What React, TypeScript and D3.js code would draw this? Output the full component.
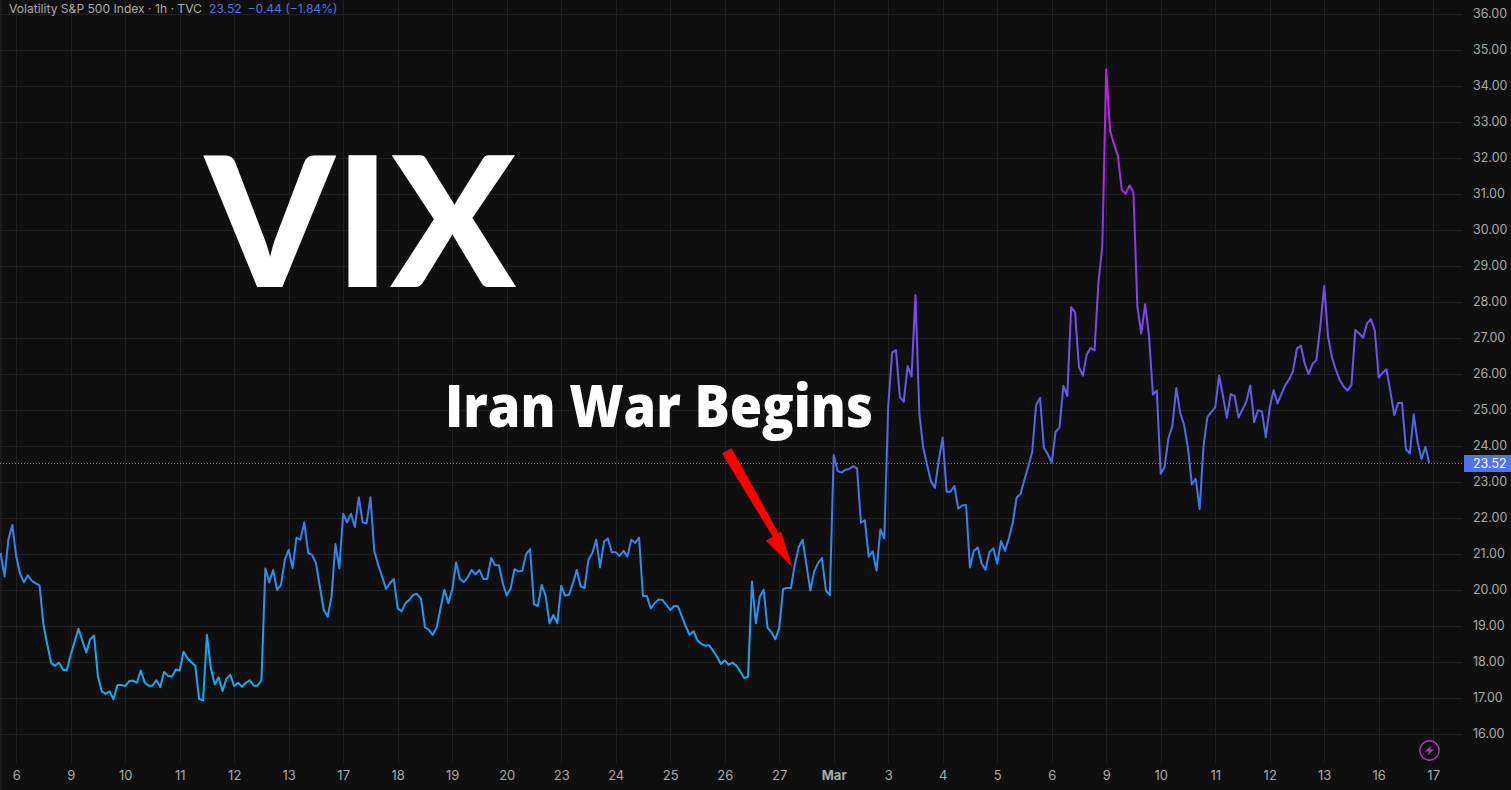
import React, { useEffect, useRef } from "react";
import * as d3 from "d3";

// hourly closes, 14 bars per session
const feb5Tail = [21.03, 20.38, 21.4, 21.81];
const feb6 = [20.94, 20.45, 20.22, 20.41, 20.26, 20.19, 20.13, 19.04, 18.48, 17.97, 17.9, 17.99, 17.79, 17.78];
const feb9 = [18.2, 18.57, 18.93, 18.6, 18.27, 18.64, 18.74, 17.6, 17.19, 17.12, 17.19, 16.97, 17.37, 17.37];
const feb10 = [17.34, 17.47, 17.49, 17.43, 17.77, 17.44, 17.35, 17.35, 17.5, 17.31, 17.73, 17.62, 17.6, 17.8];
const feb11 = [17.77, 18.29, 18.11, 18.0, 17.9, 16.98, 16.94, 18.76, 17.83, 17.39, 17.58, 17.2, 17.54, 17.65];
const feb12 = [17.34, 17.43, 17.32, 17.43, 17.5, 17.35, 17.35, 17.5, 20.6, 20.21, 20.56, 20.01, 20.14, 20.84];
const feb13 = [21.12, 20.61, 21.46, 21.4, 21.88, 21.03, 20.98, 20.75, 20.1, 19.45, 19.27, 19.82, 21.28, 20.61];
const feb17 = [22.12, 21.88, 22.12, 21.75, 22.58, 21.88, 21.85, 22.58, 21.07, 20.7, 20.38, 20.03, 20.19, 20.31];
const feb18 = [19.5, 19.41, 19.64, 19.73, 19.87, 19.89, 19.76, 18.97, 18.9, 18.76, 18.96, 19.5, 20.01, 19.64];
const feb19 = [20.01, 20.77, 20.31, 20.22, 20.36, 20.56, 20.44, 20.56, 20.31, 20.31, 20.89, 20.7, 20.69, 20.19];
const feb20 = [19.85, 20.04, 20.58, 20.52, 20.54, 21.0, 21.14, 19.61, 19.56, 20.15, 19.84, 19.08, 19.31, 19.08];
const feb23 = [20.12, 19.85, 19.87, 20.19, 20.56, 20.1, 20.06, 20.84, 21.03, 21.4, 20.63, 21.35, 21.43, 21.05];
const feb24 = [21.05, 20.95, 21.09, 20.93, 21.4, 21.31, 21.46, 19.84, 19.84, 19.49, 19.64, 19.74, 19.73, 19.59];
const feb25 = [19.45, 19.56, 19.55, 19.27, 18.99, 18.76, 18.86, 18.6, 18.51, 18.46, 18.47, 18.32, 18.16, 17.95];
const feb26 = [18.05, 17.93, 17.99, 17.91, 17.74, 17.56, 17.6, 20.24, 19.08, 19.81, 20.01, 18.96, 18.83, 18.64];
const feb27 = [18.94, 20.03, 20.06, 20.06, 20.7, 21.19, 21.4, 20.7, 19.99, 20.52, 20.75, 20.89, 19.99, 19.86];
const mar2 = [23.75, 23.31, 23.26, 23.34, 23.36, 23.44, 23.38, 21.87, 21.94, 20.93, 21.08, 20.54, 21.69, 21.44];
const mar3 = [25.09, 26.59, 26.66, 25.35, 25.23, 26.22, 25.93, 28.18, 24.9, 23.95, 23.47, 23.01, 22.84, 23.61];
const mar4 = [24.23, 22.73, 22.73, 22.89, 22.26, 22.35, 22.36, 20.63, 21.09, 21.18, 20.74, 20.57, 21.05, 21.16];
const mar5 = [20.74, 21.36, 21.09, 21.44, 21.87, 22.57, 22.67, 23.06, 23.43, 23.84, 25.14, 25.34, 23.95, 23.77];
const mar6 = [23.54, 24.39, 24.51, 25.67, 25.39, 27.85, 27.71, 26.19, 25.95, 26.54, 26.72, 26.65, 28.53, 29.55];
const mar9 = [34.45, 32.74, 32.37, 32.05, 31.1, 31.0, 31.23, 31.03, 27.88, 27.12, 27.93, 27.05, 25.43, 25.54];
const mar10 = [23.23, 23.42, 24.22, 24.55, 25.61, 24.92, 24.59, 23.94, 22.93, 23.09, 22.25, 23.99, 24.81, 24.94];
const mar11 = [25.07, 25.95, 25.38, 24.78, 25.44, 25.38, 24.79, 25.01, 25.23, 25.68, 24.66, 24.99, 24.96, 24.24];
const mar12 = [25.06, 25.55, 25.18, 25.44, 25.69, 25.85, 26.08, 26.71, 26.78, 26.29, 25.99, 26.27, 26.39, 27.31];
const mar13 = [28.44, 27.03, 26.46, 26.11, 25.83, 25.65, 25.54, 25.69, 27.22, 27.12, 27.0, 27.4, 27.52, 27.2];
const mar16 = [25.9, 26.03, 26.13, 25.51, 24.86, 25.19, 25.2, 23.91, 23.79, 24.88, 24.1, 23.64, 23.98, 23.52];

const sessions = [
  feb5Tail, feb6, feb9, feb10, feb11, feb12, feb13, feb17, feb18, feb19, feb20, feb23, feb24, feb25,
  feb26, feb27, mar2, mar3, mar4, mar5, mar6, mar9, mar10, mar11, mar12, mar13, mar16,
];

const dayLabels = ["6", "9", "10", "11", "12", "13", "17", "18", "19", "20", "23", "24", "25", "26", "27", "Mar", "3", "4", "5", "6", "9", "10", "11", "12", "13", "16", "17"];
const priceTicks = d3.range(16, 37);
const lastPrice = 23.52;
const gradientStops = [
  { price: 17, color: "#15abee" },
  { price: 18.5, color: "#1ea2ee" },
  { price: 20, color: "#2c90ec" },
  { price: 22, color: "#3f7bea" },
  { price: 24, color: "#5169ea" },
  { price: 26, color: "#6a55ee" },
  { price: 28, color: "#7c48f0" },
  { price: 31, color: "#a02cee" },
  { price: 34.5, color: "#c81cf0" },
];

const W = 1511;
const H = 790;
const BARS_PER_DAY = 14;
const UI_FONT = "Inter, Roboto, sans-serif";

const App = () => {
  const ref = useRef<SVGSVGElement>(null);

  useEffect(() => {
    document.body.style.margin = "0";
    document.body.style.background = "#0f0f0f";

    const svg = d3.select(ref.current);
    svg.selectAll("*").remove();

    const values = sessions.flat();
    const x = d3.scaleLinear().domain([4, 368]).range([16.2, 1433.2]);
    const y = d3.scaleLinear().domain([16, 36]).range([734.3, 13.5]);
    const dayIndex = dayLabels.map((_, i) => 4 + i * BARS_PER_DAY);

    svg.append("rect").attr("width", W).attr("height", H).attr("fill", "#0f0f0f");
    svg.append("rect").attr("width", 2).attr("height", H).attr("fill", "#1b1b1b");

    // grid
    const grid = svg.append("g").attr("stroke", "#202020").attr("stroke-width", 1);
    grid
      .selectAll("line.h")
      .data(priceTicks)
      .enter()
      .append("line")
      .attr("x1", 0)
      .attr("x2", 1462)
      .attr("y1", (d) => Math.round(y(d)) + 0.5)
      .attr("y2", (d) => Math.round(y(d)) + 0.5);
    grid
      .selectAll("line.v")
      .data(dayIndex)
      .enter()
      .append("line")
      .attr("x1", (d) => Math.round(x(d)) + 0.5)
      .attr("x2", (d) => Math.round(x(d)) + 0.5)
      .attr("y1", 0)
      .attr("y2", 763);

    // last price dotted line
    svg
      .append("line")
      .attr("x1", 0)
      .attr("x2", 1463)
      .attr("y1", Math.round(y(lastPrice)) + 0.5)
      .attr("y2", Math.round(y(lastPrice)) + 0.5)
      .attr("stroke", "#5f78e6")
      .attr("stroke-width", 1)
      .attr("stroke-dasharray", "1 2");

    // price line
    const grad = svg
      .append("defs")
      .append("linearGradient")
      .attr("id", "lineGrad")
      .attr("gradientUnits", "userSpaceOnUse")
      .attr("x1", 0)
      .attr("x2", 0)
      .attr("y1", y(17))
      .attr("y2", y(34.5));
    grad
      .selectAll("stop")
      .data(gradientStops)
      .enter()
      .append("stop")
      .attr("offset", (d) => (d.price - 17) / 17.5)
      .attr("stop-color", (d) => d.color);

    const line = d3
      .line<number>()
      .x((_, i) => x(i))
      .y((d) => y(d));
    svg
      .append("path")
      .attr("d", line(values))
      .attr("fill", "none")
      .attr("stroke", "url(#lineGrad)")
      .attr("stroke-width", 2)
      .attr("stroke-linejoin", "round");

    // axes
    const yAxis = svg
      .append("g")
      .attr("transform", "translate(1473,-0.5)")
      .call(d3.axisRight(y).tickValues(priceTicks).tickSize(0).tickPadding(0).tickFormat(d3.format(".2f")));
    yAxis.select(".domain").remove();
    yAxis.selectAll("text").attr("fill", "#a9a9a9").attr("font-family", UI_FONT).attr("font-size", 12.5);

    const xAxis = svg
      .append("g")
      .attr("transform", "translate(0,771)")
      .call(
        d3
          .axisBottom(x)
          .tickValues(dayIndex)
          .tickSize(0)
          .tickPadding(0)
          .tickFormat((_, i) => dayLabels[i]),
      );
    xAxis.select(".domain").remove();
    xAxis
      .selectAll("text")
      .attr("fill", "#a9a9a9")
      .attr("font-family", UI_FONT)
      .attr("font-size", 13)
      .attr("font-weight", (_, i) => (dayLabels[i] === "Mar" ? 700 : 400));

    // last price tag
    const tagY = Math.round(y(lastPrice));
    svg.append("rect").attr("x", 1464).attr("y", tagY - 8).attr("width", 47).attr("height", 17).attr("fill", "#5272e8");
    svg
      .append("text")
      .attr("x", 1473)
      .attr("y", tagY + 0.5)
      .attr("dy", "0.35em")
      .attr("fill", "#fff")
      .attr("font-family", UI_FONT)
      .attr("font-size", 12.5)
      .text(lastPrice.toFixed(2));

    // legend
    const legend = svg.append("text").attr("x", 9).attr("y", 12.5).attr("font-family", UI_FONT).attr("font-size", 12.1);
    legend.append("tspan").attr("fill", "#ababab").text("Volatility S&P 500 Index · 1h · TVC");
    legend.append("tspan").attr("x", 209).attr("fill", "#4f74e6").text("23.52");
    legend.append("tspan").attr("x", 247.5).attr("fill", "#4f74e6").text("−0.44 (−1.84%)");

    // big labels
    svg
      .append("text")
      .attr("x", 205)
      .attr("y", 287)
      .attr("fill", "#fff")
      .attr("font-family", "Lato")
      .attr("font-weight", 900)
      .attr("font-size", 181)
      .attr("textLength", 311)
      .attr("lengthAdjust", "spacingAndGlyphs")
      .text("VIX");
    svg
      .append("text")
      .attr("x", 445)
      .attr("y", 427)
      .attr("fill", "#fff")
      .attr("font-family", "Open Sans")
      .attr("font-weight", 800)
      .attr("font-size", 57.5)
      .attr("textLength", 428)
      .attr("lengthAdjust", "spacingAndGlyphs")
      .text("Iran War Begins");

    // arrow, tip sits on the Feb 27 rally
    const tipX = x(203.3);
    const tipY = y(20.65);
    const arrow = d3.path();
    arrow.moveTo(tipX, tipY);
    arrow.lineTo(tipX - 26, tipY - 26);
    arrow.lineTo(tipX - 19.3, tipY - 30);
    arrow.lineTo(tipX - 70, tipY - 113.3);
    arrow.lineTo(tipX - 60.7, tipY - 118.7);
    arrow.lineTo(tipX - 13.3, tipY - 33.3);
    arrow.lineTo(tipX - 11, tipY - 35.3);
    arrow.closePath();
    svg.append("path").attr("d", arrow.toString()).attr("fill", "#ff0000");

    // lightning badge
    const badge = svg.append("g").attr("transform", "translate(1429.5,750.5)");
    badge.append("circle").attr("r", 9.7).attr("fill", "#0f0f0f").attr("stroke", "#a93fb8").attr("stroke-width", 1.4);
    badge.append("path").attr("d", "M1.5,-5 L-4.5,1 L-0.5,1 L-2,5 L4.5,-1 L0.5,-1 Z").attr("fill", "#a93fb8");
  }, []);

  return <svg ref={ref} width={W} height={H} style={{ display: "block" }}></svg>;
};

export default App;
